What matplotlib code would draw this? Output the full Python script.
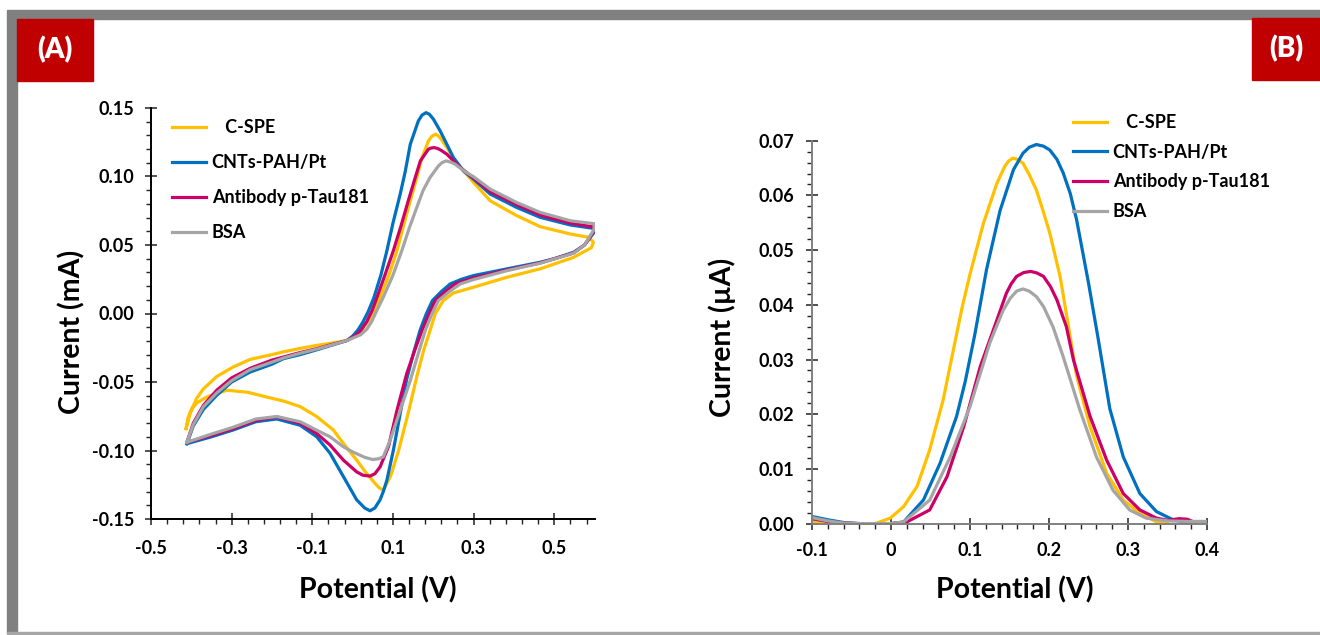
import numpy as np
import matplotlib.pyplot as plt
from matplotlib.patches import Rectangle
from matplotlib.ticker import FixedLocator, MultipleLocator, FuncFormatter

plt.rcParams['font.family'] = ['Lato', 'DejaVu Sans']
plt.rcParams['font.weight'] = 'bold'
plt.rcParams['axes.unicode_minus'] = False

W, H = 1320, 635

LABELS = ["   C-SPE", "CNTs-PAH/Pt", "Antibody p-Tau181", "BSA"]
COLORS = ["#FFC000", "#0070C0", "#CC0066", "#A5A5A5"]

# --- cyclic voltammograms: anodic sweep then return sweep (V, mA) ---
cv_cspe_v = [-0.413, -0.403, -0.387, -0.37, -0.337, -0.296, -0.254, -0.20, -0.172, -0.13, -0.089, -0.05,
             -0.014, 0.01, 0.025, 0.04, 0.055, 0.068, 0.09, 0.11, 0.125, 0.143, 0.158, 0.172, 0.188, 0.197,
             0.206, 0.213, 0.22, 0.234, 0.259, 0.279, 0.30, 0.341, 0.407, 0.465, 0.54, 0.586, 0.597,
             0.592, 0.548, 0.465, 0.383, 0.30, 0.25, 0.225, 0.205, 0.192, 0.176, 0.16, 0.14, 0.114, 0.095,
             0.076, 0.065, 0.052, 0.03, 0.010, -0.02, -0.048, -0.09, -0.13, -0.17, -0.213, -0.26, -0.312,
             -0.362, -0.385, -0.399, -0.408, -0.413]
cv_cspe_i = [-0.084, -0.073, -0.062, -0.055, -0.046, -0.039, -0.0335, -0.030, -0.028, -0.0255, -0.0233, -0.0215,
             -0.0197, -0.0155, -0.011, -0.005, 0.003, 0.0119, 0.028, 0.0459, 0.063, 0.0823, 0.098, 0.1138, 0.126,
             0.1295, 0.1309, 0.1295, 0.127, 0.1211, 0.109, 0.1029, 0.0956, 0.0823, 0.0714, 0.0634, 0.058,
             0.0556, 0.052,
             0.048, 0.041, 0.0326, 0.0265, 0.0192, 0.015, 0.0095, 0.0, -0.0124, -0.027, -0.045, -0.070, -0.100,
             -0.118, -0.129, -0.127, -0.1228, -0.115, -0.107, -0.096, -0.085, -0.075, -0.068, -0.064, -0.061,
             -0.0575, -0.056, -0.061, -0.065, -0.0694, -0.076, -0.084]

cv_cnts_v = [-0.411, -0.395, -0.37, -0.337, -0.30, -0.254, -0.20, -0.172, -0.13, -0.089, -0.05, -0.014,
             0.0, 0.012, 0.025, 0.038, 0.052, 0.07, 0.085, 0.10, 0.118, 0.13, 0.143, 0.163, 0.172, 0.182, 0.19,
             0.20, 0.217, 0.25, 0.275, 0.30, 0.341, 0.407, 0.465, 0.54, 0.60,
             0.598, 0.575, 0.548, 0.50, 0.465, 0.383, 0.30, 0.27, 0.242, 0.22, 0.198, 0.183, 0.167, 0.15,
             0.134, 0.118, 0.101, 0.085, 0.076, 0.068, 0.055, 0.043, 0.03, 0.02, 0.010, -0.023, -0.056, -0.089,
             -0.13, -0.188, -0.24, -0.296, -0.35, -0.411]
cv_cnts_i = [-0.095, -0.082, -0.070, -0.0597, -0.050, -0.0427, -0.037, -0.033, -0.030, -0.0265, -0.023, -0.0197,
             -0.0165, -0.0125, -0.0065, 0.001, 0.0110, 0.028, 0.0459, 0.066, 0.0872, 0.103, 0.1236, 0.1406,
             0.1448, 0.1466, 0.1455, 0.142, 0.1333, 0.1138, 0.104, 0.098, 0.0872, 0.0774, 0.0702, 0.0646, 0.062,
             0.059, 0.050, 0.0447, 0.040, 0.0374, 0.0326, 0.0277, 0.025, 0.0216, 0.016, 0.0095, 0.0, -0.0124,
             -0.030, -0.048, -0.073, -0.0998, -0.1216, -0.130, -0.136, -0.142, -0.144, -0.142, -0.139, -0.136,
             -0.119, -0.102, -0.090, -0.0816, -0.077, -0.079, -0.085, -0.090, -0.095]

cv_ab_v = [-0.411, -0.395, -0.37, -0.337, -0.30, -0.254, -0.20, -0.172, -0.13, -0.089, -0.05, -0.014, 0.005,
           0.02, 0.035, 0.048, 0.06, 0.08, 0.101, 0.12, 0.138, 0.155, 0.168, 0.188, 0.195, 0.203, 0.212, 0.22,
           0.234, 0.262, 0.30, 0.341, 0.407, 0.465, 0.54, 0.60,
           0.598, 0.575, 0.548, 0.465, 0.383, 0.30, 0.254, 0.23, 0.205, 0.19, 0.172, 0.155, 0.134, 0.11, 0.089,
           0.068, 0.055, 0.043, 0.025, 0.010, -0.023, -0.056, -0.089, -0.13, -0.188, -0.24, -0.296, -0.35,
           -0.411]
cv_ab_i = [-0.094, -0.080, -0.067, -0.056, -0.047, -0.040, -0.034, -0.0318, -0.0285, -0.0257, -0.0225, -0.0197,
           -0.0165, -0.0125, -0.006, 0.002, 0.0115, 0.028, 0.0459, 0.064, 0.0823, 0.099, 0.1114, 0.120, 0.1208,
           0.1211, 0.1203, 0.119, 0.1162, 0.1078, 0.0988, 0.089, 0.0794, 0.0719, 0.066, 0.063,
           0.060, 0.050, 0.0442, 0.0369, 0.0318, 0.026, 0.0216, 0.016, 0.0095, 0.0, -0.0124, -0.026, -0.044,
           -0.0706, -0.097, -0.112, -0.117, -0.1187, -0.118, -0.1156, -0.107, -0.096, -0.0876, -0.080, -0.0755,
           -0.078, -0.084, -0.089, -0.094]

cv_bsa_v = [-0.411, -0.395, -0.37, -0.337, -0.30, -0.254, -0.20, -0.172, -0.13, -0.089, -0.05, -0.014, 0.02,
            0.035, 0.047, 0.058, 0.076, 0.10, 0.122, 0.14, 0.159, 0.175, 0.192, 0.213, 0.222, 0.232, 0.243,
            0.254, 0.282, 0.30, 0.341, 0.407, 0.465, 0.54, 0.60,
            0.598, 0.575, 0.548, 0.465, 0.383, 0.30, 0.267, 0.24, 0.213, 0.197, 0.18, 0.162, 0.143, 0.118,
            0.093, 0.076, 0.065, 0.050, 0.03, 0.0, -0.023, -0.056, -0.089, -0.13, -0.188, -0.24, -0.296,
            -0.35, -0.411]
cv_bsa_i = [-0.094, -0.081, -0.068, -0.058, -0.049, -0.041, -0.0355, -0.0325, -0.029, -0.026, -0.0228, -0.0197,
            -0.0155, -0.0115, -0.006, 0.001, 0.0119, 0.028, 0.0459, 0.062, 0.0774, 0.090, 0.0993, 0.1078,
            0.1102, 0.1114, 0.1105, 0.109, 0.1029, 0.0998, 0.0908, 0.081, 0.0738, 0.0677, 0.0655,
            0.061, 0.050, 0.044, 0.0367, 0.0313, 0.0248, 0.0216, 0.016, 0.0095, 0.0, -0.0124, -0.030, -0.0488,
            -0.0706, -0.0925, -0.1046, -0.106, -0.1066, -0.105, -0.101, -0.0973, -0.090, -0.0852, -0.079,
            -0.0752, -0.077, -0.083, -0.088, -0.094]

# --- differential pulse voltammograms (V, uA) ---
dpv_cspe_v = [-0.10, -0.08, -0.06, -0.04, -0.02, -0.001, 0.016, 0.033, 0.049, 0.066, 0.079, 0.09, 0.10, 0.117,
              0.134, 0.144, 0.149, 0.154, 0.16, 0.167, 0.175, 0.184, 0.192, 0.201, 0.214, 0.224, 0.235, 0.252,
              0.273, 0.294, 0.315, 0.336, 0.35]
dpv_cspe_i = [0.0004, 0.0002, 0.0, 0.0, 0.0, 0.001, 0.0031, 0.0068, 0.0135, 0.0226, 0.0318, 0.0395, 0.0456,
              0.0549, 0.0622, 0.0653, 0.0663, 0.0668, 0.0666, 0.0659, 0.0638, 0.061, 0.0574, 0.0531, 0.0452,
              0.0366, 0.027, 0.0177, 0.0092, 0.0043, 0.0019, 0.0003, 0.0]

dpv_cnts_v = [-0.10, -0.08, -0.06, -0.04, -0.02, 0.0, 0.016, 0.041, 0.062, 0.083, 0.094, 0.106, 0.121, 0.138,
              0.155, 0.167, 0.175, 0.184, 0.193, 0.201, 0.21, 0.218, 0.227, 0.235, 0.25, 0.262, 0.277, 0.294,
              0.315, 0.336, 0.357, 0.38]
dpv_cnts_i = [0.0013, 0.0007, 0.0002, 0.0, 0.0, 0.0, 0.0003, 0.0043, 0.011, 0.0196, 0.026, 0.0345, 0.0465,
              0.0572, 0.0647, 0.0677, 0.0688, 0.0693, 0.0690, 0.0683, 0.0666, 0.0641, 0.0603, 0.0555, 0.044,
              0.034, 0.021, 0.0122, 0.0055, 0.0022, 0.0007, 0.0]

dpv_ab_v = [-0.10, -0.08, -0.06, -0.04, 0.0, 0.02, 0.049, 0.071, 0.092, 0.113, 0.134, 0.146, 0.152, 0.159,
            0.168, 0.177, 0.185, 0.193, 0.202, 0.21, 0.222, 0.231, 0.252, 0.273, 0.294, 0.315, 0.336, 0.35,
            0.365, 0.375, 0.385]
dpv_ab_i = [0.0009, 0.0004, 0.0001, 0.0, 0.0, 0.0003, 0.0025, 0.0086, 0.0177, 0.0287, 0.0372, 0.0421, 0.0438,
            0.0452, 0.0459, 0.0461, 0.0458, 0.0452, 0.0433, 0.0409, 0.036, 0.0299, 0.0196, 0.0116, 0.0055,
            0.0025, 0.001, 0.0006, 0.0009, 0.0008, 0.0002]

dpv_bsa_v = [-0.10, -0.08, -0.06, -0.04, 0.0, 0.016, 0.049, 0.075, 0.10, 0.125, 0.134, 0.142, 0.151, 0.159,
             0.167, 0.175, 0.184, 0.193, 0.205, 0.218, 0.239, 0.26, 0.281, 0.302, 0.323, 0.35, 0.375, 0.40]
dpv_bsa_i = [0.0011, 0.0005, 0.0001, 0.0, 0.0, 0.0003, 0.0043, 0.0122, 0.0214, 0.033, 0.0362, 0.039, 0.0412,
             0.0425, 0.0429, 0.0425, 0.0415, 0.0397, 0.036, 0.0305, 0.0208, 0.0122, 0.0061, 0.0025, 0.001,
             0.0005, 0.0004, 0.0004]

cv_data = [(cv_cspe_v, cv_cspe_i), (cv_cnts_v, cv_cnts_i), (cv_ab_v, cv_ab_i), (cv_bsa_v, cv_bsa_i)]
dpv_data = [(dpv_cspe_v, dpv_cspe_i), (dpv_cnts_v, dpv_cnts_i), (dpv_ab_v, dpv_ab_i), (dpv_bsa_v, dpv_bsa_i)]


def px_axes(left, top, right, bottom):
    return [left / W, 1 - bottom / H, (right - left) / W, (bottom - top) / H]


fig = plt.figure(figsize=(W / 100, H / 100), dpi=100)

# outer frame and panel tags
frame = '#808080'
fig.patches.append(Rectangle((7 / W, 1 - 19 / H), 1, 9 / H, transform=fig.transFigure, color=frame))
fig.patches.append(Rectangle((7 / W, 1 - 633 / H), 10 / W, 614 / H, transform=fig.transFigure, color=frame))
fig.patches.append(Rectangle((7 / W, 1 - 634 / H), 1, 2 / H, transform=fig.transFigure, color='#a6a6a6'))
for x0, x1, y0, y1, tag in [(17, 93, 19, 81, '(A)'), (1252, 1320, 18, 80, '(B)')]:
    fig.patches.append(Rectangle((x0 / W, 1 - y1 / H), (x1 - x0) / W, (y1 - y0) / H,
                                 transform=fig.transFigure, color='#C00000'))
    fig.text((x0 + x1) / 2 / W, 1 - (y0 + y1) / 2 / H, tag, color='white', fontsize=20,
             fontweight='heavy', ha='center', va='center')


def style_axes(ax, spine_color):
    for s in ['top', 'right']:
        ax.spines[s].set_visible(False)
    for s in ['left', 'bottom']:
        ax.spines[s].set_color(spine_color)
        ax.spines[s].set_linewidth(1.4)
    ax.tick_params(which='major', direction='inout', length=8, width=1.1, color='#222222')
    ax.tick_params(which='minor', direction='out', length=3.5, width=1.0, color='#222222')
    for lab in ax.get_xticklabels() + ax.get_yticklabels():
        lab.set_fontsize(13)
        lab.set_fontweight('bold')


label_font = dict(fontsize=20.5, fontweight='bold', ha='center', va='center')
legend_font = dict(size=13, weight='bold')

# (A) cyclic voltammetry
ax1 = fig.add_axes(px_axes(151, 108, 594.6, 519))
lines = []
for (v, i), c, lab in zip(cv_data, COLORS, LABELS):
    ln, = ax1.plot(v, i, color=c, lw=2.3, label=lab, solid_joinstyle='round')
    lines.append(ln)
ax1.set_xlim(-0.5, 0.6)
ax1.set_ylim(-0.15, 0.15)
ax1.xaxis.set_major_locator(FixedLocator(np.arange(-0.5, 0.51, 0.2)))
ax1.xaxis.set_minor_locator(FixedLocator(np.arange(-0.5, 0.61, 0.04)))
ax1.yaxis.set_major_locator(MultipleLocator(0.05))
ax1.yaxis.set_minor_locator(MultipleLocator(0.01))
ax1.xaxis.set_major_formatter(FuncFormatter(lambda x, p: f'{x:.1f}'))
ax1.yaxis.set_major_formatter(FuncFormatter(lambda y, p: f'{y:.2f}' if abs(y) > 1e-9 else '0.00'))
style_axes(ax1, '#000000')
ax1.tick_params(axis='x', which='major', pad=11)
ax1.tick_params(axis='y', which='major', pad=8)
fig.text(378 / W, 1 - 590 / H, 'Potential (V)', **label_font)
fig.text(72 / W, 1 - 332 / H, 'Current (mA)', rotation=90, **label_font)
fig.legend(handles=lines, loc='upper left', bbox_to_anchor=(172 / W, 1 - 119 / H), frameon=False,
           borderpad=0, borderaxespad=0, handlelength=1.9, handletextpad=0.3, labelspacing=1.0,
           prop=legend_font)

# (B) differential pulse voltammetry
ax2 = fig.add_axes(px_axes(812, 140.7, 1207, 523.6))
lines = []
for (v, i), c, lab in zip(dpv_data, COLORS, LABELS):
    ln, = ax2.plot(v, i, color=c, lw=2.3, label=lab, solid_joinstyle='round')
    lines.append(ln)
ax2.set_xlim(-0.1, 0.4)
ax2.set_ylim(0, 0.07)
ax2.xaxis.set_major_locator(MultipleLocator(0.1))
ax2.xaxis.set_minor_locator(MultipleLocator(0.02))
ax2.yaxis.set_major_locator(MultipleLocator(0.01))
ax2.yaxis.set_minor_locator(MultipleLocator(0.002))
ax2.xaxis.set_major_formatter(FuncFormatter(lambda x, p: '0' if abs(x) < 1e-9 else f'{x:.1f}'))
ax2.yaxis.set_major_formatter(FuncFormatter(lambda y, p: '0.00' if abs(y) < 1e-9 else f'{y:.2f}'))
style_axes(ax2, '#808080')
ax2.tick_params(axis='x', which='major', pad=9)
ax2.tick_params(axis='y', which='major', pad=9)
fig.text(1015 / W, 1 - 590 / H, 'Potential (V)', **label_font)
fig.text(722 / W, 1 - 337 / H, 'Current (\u00b5A)', rotation=90, **label_font)
fig.legend(handles=lines, loc='upper left', bbox_to_anchor=(1073 / W, 1 - 114 / H), frameon=False,
           borderpad=0, borderaxespad=0, handlelength=1.9, handletextpad=0.3, labelspacing=0.7,
           prop=legend_font)

fig.savefig('out.png', dpi=100)
